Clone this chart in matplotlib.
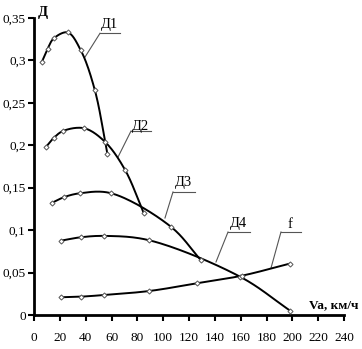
import numpy as np
import matplotlib
matplotlib.use("Agg")
import matplotlib.pyplot as plt

# ---- data ----
d1_x = [6.0, 10.6, 15.3, 26.1, 36.2, 47.1, 56.8]
d1_y = [0.298, 0.314, 0.326, 0.333, 0.312, 0.265, 0.190]

d2_x = [9.3, 15.5, 22.7, 39.0, 55.0, 70.5, 85.0]
d2_y = [0.198, 0.209, 0.217, 0.220, 0.204, 0.171, 0.120]

d3_x = [13.7, 23.5, 35.7, 59.7, 106.0, 129.0]
d3_y = [0.132, 0.139, 0.1435, 0.1435, 0.104, 0.065]

d4_x = [20.9, 36.2, 54.3, 89.4, 159.7, 198.4]
d4_y = [0.0876, 0.0916, 0.0932, 0.088, 0.045, 0.005]

f_x = [20.9, 36.2, 54.5, 89.4, 126.1, 161.2, 197.9]
f_y = [0.0209, 0.0216, 0.0236, 0.0283, 0.0374, 0.0464, 0.0605]

series = [("Д1", d1_x, d1_y), ("Д2", d2_x, d2_y), ("Д3", d3_x, d3_y),
          ("Д4", d4_x, d4_y), ("f", f_x, f_y)]

y_ticks = [0, 0.05, 0.1, 0.15, 0.2, 0.25, 0.3, 0.35]
y_tick_labels = ["0", "0,05", "0,1", "0,15", "0,2", "0,25", "0,3", "0,35"]
x_ticks = list(range(0, 241, 20))

# label text pos, underline start/end, leader end (on curve)
labels = {
    "Д1": ((58.1, 0.342), (51.1, 66.6, 0.332), (39.5, 0.304)),
    "Д2": ((82.1, 0.2227), (75.1, 90.6, 0.2168), (65.0, 0.186)),
    "Д3": ((116.1, 0.1556), (107.6, 124.6, 0.145), (101.4, 0.1143)),
    "Д4": ((157.9, 0.1084), (150.2, 167.2, 0.0978), (140.9, 0.0625)),
    "f": ((198.2, 0.1065), (191.2, 206.7, 0.0978), (183.5, 0.0554)),
}


def catmull_rom(xs, ys, n=30, alpha=0.5):
    p = np.column_stack([xs, ys]).astype(float)
    sc = np.array([1.0, 240 / 0.35 * 297 / 310])
    q = p * sc
    ext = np.vstack([2 * q[0] - q[1], q, 2 * q[-1] - q[-2]])
    out = []
    for i in range(1, len(ext) - 2):
        p0, p1, p2, p3 = ext[i - 1], ext[i], ext[i + 1], ext[i + 2]
        t0 = 0.0
        t1 = t0 + np.linalg.norm(p1 - p0) ** alpha
        t2 = t1 + np.linalg.norm(p2 - p1) ** alpha
        t3 = t2 + np.linalg.norm(p3 - p2) ** alpha
        t = np.linspace(t1, t2, n, endpoint=(i == len(ext) - 3))[:, None]
        a1 = (t1 - t) / (t1 - t0) * p0 + (t - t0) / (t1 - t0) * p1
        a2 = (t2 - t) / (t2 - t1) * p1 + (t - t1) / (t2 - t1) * p2
        a3 = (t3 - t) / (t3 - t2) * p2 + (t - t2) / (t3 - t2) * p3
        b1 = (t2 - t) / (t2 - t0) * a1 + (t - t0) / (t2 - t0) * a2
        b2 = (t3 - t) / (t3 - t1) * a2 + (t - t1) / (t3 - t1) * a3
        c = (t2 - t) / (t2 - t1) * b1 + (t - t1) / (t2 - t1) * b2
        out.append(c)
    out = np.vstack(out) / sc
    return out[:, 0], out[:, 1]


plt.rcParams['font.family'] = ['Liberation Serif', 'DejaVu Serif']
fig = plt.figure(figsize=(3.62, 3.49), dpi=100)
ax = fig.add_axes([34 / 362, 1 - 315 / 349, 310 / 362, 297 / 349])

for name, xs, ys in series:
    sx, sy = catmull_rom(xs, ys)
    ax.plot(sx, sy, color="black", lw=1.4, zorder=2)
    ax.plot(xs, ys, ls="none", marker="D", ms=2.6, mfc="white", mec="#555555",
            mew=0.7, zorder=3)

for name, ((tx, ty), (u0, u1, uy), (lx, ly)) in labels.items():
    ax.text(tx, ty, name, ha="center", va="center", fontsize=10.5, color="black")
    ax.plot([u0, u1], [uy, uy], color="#555555", lw=0.8, zorder=1)
    ax.plot([u0, lx], [uy, ly], color="#555555", lw=0.8, zorder=1)

ax.set_xlim(0, 240)
ax.set_ylim(0, 0.35)
ax.set_xticks(x_ticks)
ax.set_xticklabels([str(v) for v in x_ticks])
ax.set_yticks(y_ticks)
ax.set_yticklabels(y_tick_labels)
ax.tick_params(axis="both", direction="out", length=4, width=1.5, labelsize=9.5,
               colors="black")
ax.tick_params(axis="x", pad=8)
ax.tick_params(axis="y", pad=2)
for s in ["top", "right"]:
    ax.spines[s].set_visible(False)
for s in ["left", "bottom"]:
    ax.spines[s].set_linewidth(2)

ax.text(7.2, 0.357, "Д", fontsize=10.5, fontweight="bold", ha="center", va="center",
        clip_on=False)
ax.text(251.5, 0.0115, "Va, км/ч", fontsize=9.5, fontweight="bold", ha="right",
        va="center", clip_on=False)

fig.savefig("out.png", dpi=100)
